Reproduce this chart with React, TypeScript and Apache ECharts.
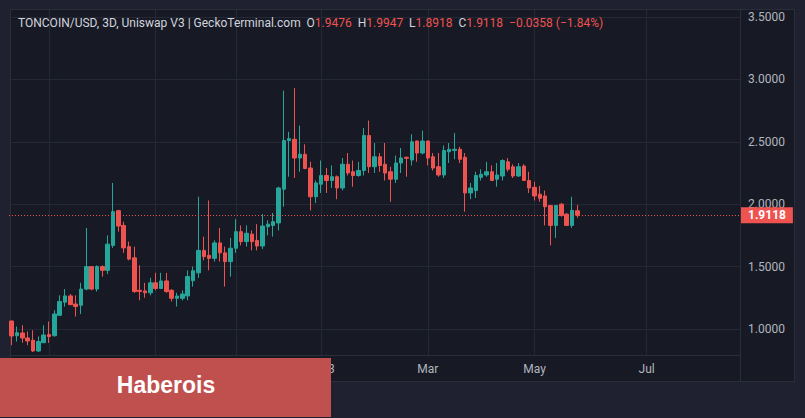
import React, { useEffect, useRef } from "react";
import * as echarts from "echarts";

// OHLC (3D candles)
const opens = [
  1.064, 0.946, 0.968, 0.928, 0.91, 0.824, 0.89, 0.955, 0.946, 1.11,
  1.215, 1.265, 1.2, 1.19, 1.32, 1.5, 1.32, 1.5, 1.47, 1.67,
  1.948, 1.83, 1.66, 1.57, 1.31, 1.305, 1.29, 1.37, 1.325, 1.385,
  1.31, 1.246, 1.246, 1.265, 1.387, 1.45, 1.63, 1.59, 1.566, 1.69,
  1.61, 1.54, 1.647, 1.78, 1.7, 1.76, 1.71, 1.665, 1.82, 1.83,
  1.85, 2.12, 2.51, 2.52, 2.37, 2.4, 2.29, 2.06, 2.16, 2.23,
  2.19, 2.22, 2.13, 2.32, 2.26, 2.23, 2.27, 2.55, 2.3, 2.38,
  2.32, 2.26, 2.2, 2.33, 2.376, 2.354, 2.506, 2.41, 2.506, 2.38,
  2.3, 2.234, 2.42, 2.43, 2.44, 2.376, 2.09, 2.11, 2.215, 2.234,
  2.26, 2.2, 2.226, 2.34, 2.3, 2.226, 2.306, 2.19, 2.135, 2.08,
  2.066, 1.99, 1.83, 2.0, 1.92, 1.83, 1.9476,
];
const closes = [
  0.944, 0.97, 0.928, 0.904, 0.824, 0.9, 0.952, 0.94, 1.12, 1.22,
  1.265, 1.195, 1.18, 1.32, 1.5, 1.32, 1.5, 1.47, 1.68, 1.94,
  1.825, 1.65, 1.56, 1.3, 1.3, 1.29, 1.37, 1.325, 1.385, 1.3,
  1.246, 1.264, 1.28, 1.42, 1.467, 1.63, 1.58, 1.566, 1.69, 1.61,
  1.54, 1.647, 1.78, 1.7, 1.767, 1.7, 1.665, 1.825, 1.84, 1.86,
  2.13, 2.51, 2.525, 2.37, 2.4, 2.286, 2.06, 2.17, 2.23, 2.19,
  2.22, 2.13, 2.32, 2.25, 2.23, 2.27, 2.55, 2.3, 2.38, 2.31,
  2.25, 2.2, 2.33, 2.37, 2.368, 2.5, 2.41, 2.506, 2.37, 2.29,
  2.234, 2.43, 2.44, 2.44, 2.36, 2.09, 2.13, 2.23, 2.24, 2.26,
  2.19, 2.234, 2.35, 2.28, 2.226, 2.3, 2.19, 2.13, 2.066, 2.047,
  1.98, 1.83, 1.99, 1.91, 1.83, 1.95, 1.9118,
];
const lows = [
  0.87, 0.9, 0.89, 0.87, 0.816, 0.816, 0.888, 0.888, 0.94, 1.106,
  1.18, 1.195, 1.1, 1.12, 1.31, 1.31, 1.3, 1.42, 1.44, 1.65,
  1.78, 1.61, 1.55, 1.29, 1.23, 1.25, 1.27, 1.31, 1.32, 1.29,
  1.22, 1.18, 1.23, 1.23, 1.34, 1.41, 1.55, 1.47, 1.54, 1.54,
  1.34, 1.42, 1.61, 1.67, 1.66, 1.63, 1.63, 1.64, 1.75, 1.74,
  1.79, 1.98, 2.22, 2.21, 2.26, 2.28, 1.95, 2.01, 2.09, 2.09,
  2.13, 2.04, 2.11, 2.23, 2.14, 2.22, 2.23, 2.25, 2.25, 2.26,
  2.19, 2.02, 2.17, 2.25, 2.22, 2.31, 2.34, 2.4, 2.31, 2.27,
  2.22, 2.21, 2.33, 2.36, 2.33, 1.94, 2.04, 2.05, 2.19, 2.22,
  2.19, 2.14, 2.19, 2.26, 2.21, 2.22, 2.19, 2.09, 2.03, 2.02,
  1.83, 1.67, 1.73, 1.9, 1.825, 1.81, 1.8918,
];
const highs = [
  1.066, 1.02, 1.03, 0.98, 0.99, 0.94, 1.03, 1.06, 1.15, 1.27,
  1.32, 1.28, 1.27, 1.37, 1.81, 1.5, 1.51, 1.51, 1.75, 2.17,
  1.955, 1.86, 1.7, 1.66, 1.51, 1.37, 1.41, 1.45, 1.45, 1.45,
  1.32, 1.29, 1.31, 1.47, 1.5, 2.06, 1.74, 2.03, 1.71, 1.81,
  1.66, 1.73, 1.88, 1.83, 1.83, 1.79, 1.84, 1.92, 1.87, 1.93,
  2.14, 2.91, 2.58, 2.93, 2.63, 2.48, 2.34, 2.19, 2.35, 2.29,
  2.31, 2.23, 2.37, 2.41, 2.35, 2.34, 2.61, 2.67, 2.49, 2.41,
  2.49, 2.3, 2.39, 2.45, 2.38, 2.56, 2.51, 2.59, 2.51, 2.41,
  2.41, 2.47, 2.49, 2.57, 2.46, 2.41, 2.17, 2.26, 2.28, 2.34,
  2.31, 2.33, 2.36, 2.37, 2.32, 2.33, 2.32, 2.26, 2.18, 2.146,
  2.11, 1.99, 1.99, 2.01, 1.93, 2.06, 1.9947,
];

const priceTicks = [1.0, 1.5, 2.0, 2.5, 3.0, 3.5];
// vertical grid lines (month boundaries) and the time labels that are visible
const timeGridIndex = [7, 27, 42, 58, 78, 98, 119];
const timeLabelIndex = [58, 78, 98, 119];
const timeLabels = ["2023", "Mar", "May", "Jul"];
const startDate = "2022-07-11";
const categoryCount = 137;
const lastPrice = 1.9118;
const yMin = 0.7917;
const yMax = 3.556;

const UP = "#26a69a";
const DOWN = "#ef5350";
const FONT = "Roboto, 'Noto Sans', sans-serif";

export default function App() {
  const ref = useRef<HTMLDivElement>(null);

  useEffect(() => {
    if (!ref.current) return;
    const chart = echarts.init(ref.current, null, { renderer: "svg" });
    const start = new Date(startDate + "T00:00:00Z").getTime();
    const cats = Array.from({ length: categoryCount }, (_, i) =>
      new Date(start + i * 3 * 86400000).toISOString().slice(0, 10)
    );
    const data = opens.map((o, i) => [o, closes[i], lows[i], highs[i]]);
    const labelMap = new Map<number, string>(
      timeLabelIndex.map((t, i) => [t, timeLabels[i]])
    );
    const gridSet = new Set<number>(timeGridIndex);

    chart.setOption({
      animation: false,
      backgroundColor: "#1f2130",
      textStyle: { fontFamily: FONT },
      title: {
        left: 13,
        top: 12,
        text:
          "{w|TONCOIN/USD, 3D, Uniswap V3 | GeckoTerminal.com}  {w|O}{r|1.9476}  {w|H}{r|1.9947}  {w|L}{r|1.8918}  {w|C}{r|1.9118}  {r|−0.0358 (−1.84%)}",
        textStyle: {
          fontSize: 12,
          fontWeight: "normal",
          rich: {
            w: { color: "#d1d4dc", fontSize: 12, fontWeight: "normal", fontFamily: FONT },
            r: { color: DOWN, fontSize: 12, fontWeight: "normal", fontFamily: FONT },
          },
        },
      },
      grid: { left: 9, top: 10, width: 731, height: 345, show: false },
      xAxis: {
        type: "category",
        data: cats,
        boundaryGap: true,
        axisLine: { show: true, lineStyle: { color: "#2a2e39" } },
        axisTick: { show: false },
        axisLabel: {
          interval: (i: number) => labelMap.has(i),
          formatter: (_v: string, i: number) => labelMap.get(i) ?? "",
          color: "#b2b5be",
          fontSize: 12,
          margin: 8,
        },
        splitLine: {
          show: true,
          interval: (i: number) => gridSet.has(i),
          alignWithLabel: true,
          lineStyle: { color: "#252935", width: 1 },
        },
      },
      yAxis: [
        {
          type: "value",
          position: "right",
          min: yMin,
          max: yMax,
          axisLine: { show: false },
          axisTick: { show: false, customValues: priceTicks },
          axisLabel: {
            customValues: priceTicks,
            formatter: (v: number) => v.toFixed(4),
            color: "#b2b5be",
            fontSize: 12,
            margin: 8,
          },
          splitLine: { show: true, lineStyle: { color: "#252935", width: 1 } },
        },
        {
          type: "value",
          position: "right",
          min: yMin,
          max: yMax,
          axisLine: { show: false },
          axisTick: { show: false, customValues: [lastPrice] },
          splitLine: { show: false },
          axisLabel: {
            customValues: [lastPrice],
            formatter: (v: number) => v.toFixed(4),
            color: "#ffffff",
            backgroundColor: DOWN,
            padding: [2, 7, 2, 7],
            lineHeight: 12,
            fontSize: 12,
            fontWeight: "bold",
            margin: 1,
          },
        },
      ],
      series: [
        {
          type: "candlestick",
          data,
          barWidth: 4,
          itemStyle: {
            color: UP,
            color0: DOWN,
            borderColor: UP,
            borderColor0: DOWN,
            borderWidth: 1,
          },
          markLine: {
            silent: true,
            symbol: ["none", "none"],
            label: { show: false },
            lineStyle: { color: DOWN, type: [1, 2], width: 1 },
            data: [{ yAxis: lastPrice }],
          },
        },
      ],
      graphic: [
        {
          type: "rect",
          z: -10,
          silent: true,
          shape: { x: 10.5, y: 9.5, width: 784, height: 372 },
          style: { fill: "#171a25", stroke: "#2a2e39", lineWidth: 1 },
        },
        {
          type: "line",
          z: -9,
          silent: true,
          shape: { x1: 740.5, y1: 10, x2: 740.5, y2: 382 },
          style: { stroke: "#2a2e39", lineWidth: 1 },
        },
        {
          type: "rect",
          z: 100,
          shape: { x: 0, y: 358, width: 331, height: 59 },
          style: { fill: "#c0504e" },
        },
        {
          type: "text",
          z: 101,
          x: 166,
          y: 385,
          style: {
            text: "Haberois",
            fill: "#ffffff",
            font: "bold 23px 'Liberation Sans', Arial, sans-serif",
            textAlign: "center",
            textVerticalAlign: "middle",
          },
        },
      ],
    });

    return () => chart.dispose();
  }, []);

  return (
    <div
      ref={ref}
      style={{ position: "fixed", left: 0, top: 0, width: 805, height: 418 }}
    />
  );
}
